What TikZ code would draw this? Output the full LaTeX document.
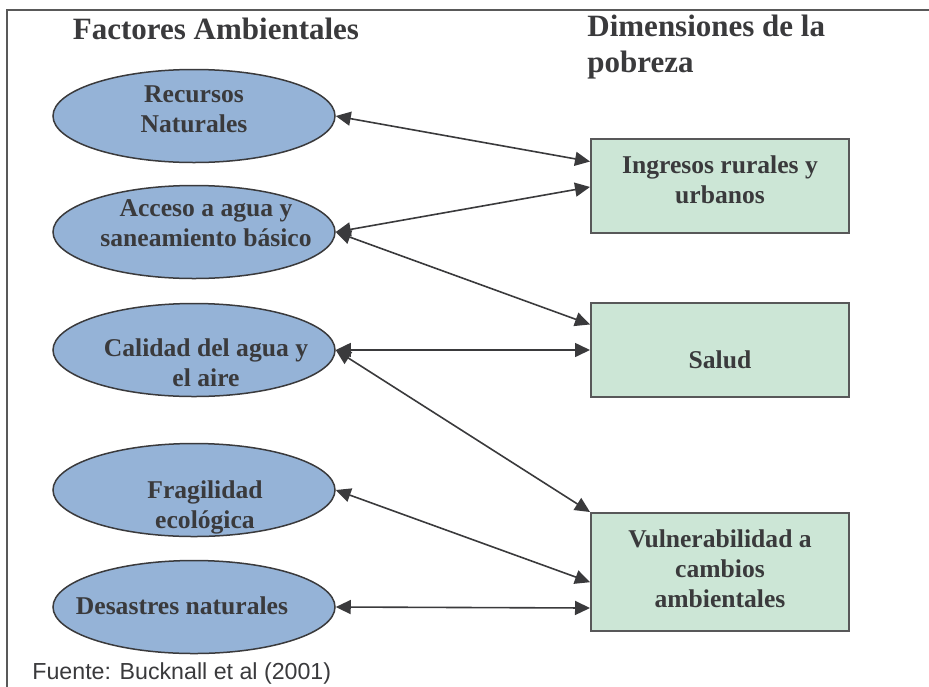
\documentclass[tikz,border=0pt]{standalone}
\usepackage{fontspec}
\setmainfont{Liberation Serif}
\newfontfamily\fuentefont{Liberation Sans}
\usetikzlibrary{arrows.meta,calc,shapes.geometric}
\definecolor{elipse}{RGB}{149,179,215}
\definecolor{caja}{RGB}{204,230,214}
\definecolor{tinta}{RGB}{58,58,60}

\begin{document}
\begin{tikzpicture}[
  x=0.5pt, y=-0.5pt,
  every node/.style={text=tinta},
  titulo/.style={font=\bfseries\fontsize{15.5}{18}\selectfont, inner sep=0pt},
  texto/.style={font=\bfseries\fontsize{12.8}{15}\selectfont, align=center, inner sep=0pt},
  factor/.style={ellipse, draw=tinta, line width=0.75pt, fill=elipse,
    minimum width=141pt, minimum height=46.5pt, inner sep=0pt},
  dimension/.style={rectangle, draw=tinta!85, line width=1pt, fill=caja,
    minimum width=129pt, minimum height=47pt, inner sep=0pt},
  flecha/.style={draw=tinta, line width=0.8pt,
    {Triangle[length=7.5pt,width=7pt]}-{Triangle[length=7.5pt,width=7pt]}},
]
\useasboundingbox (0,0) rectangle (929,686);
\clip (0,0) rectangle (929,686);
\draw[line width=1pt, draw=black!65] (7,10) rectangle (960,720);

% titulos
\node[titulo] (tfac) at (216,29) {Factores Ambientales};
\node[titulo, align=left, anchor=west] (tdim) at (587,47) {Dimensiones de la\\pobreza};

% factores ambientales
\foreach \n/\y/\tx/\ty/\txt in {
  rec/116/194/109/{Recursos\\Naturales},
  acc/232/206/223/{Acceso a agua y\\saneamiento básico},
  cal/350/206/363/{Calidad del agua y\\el aire},
  fra/490/205/507/{Fragilidad\\ecológica},
  des/607/182/606/{Desastres naturales}} {
  \node[factor] (\n) at (194,\y) {};
  \node[texto] (\n-t) at (\tx,\ty) {\txt};
}

% dimensiones de la pobreza
\node[dimension] (ing) at (720,186) {};
\node[texto] (ing-t) at (720,180) {Ingresos rurales y\\urbanos};
\node[dimension] (sal) at (720,350) {};
\node[texto] (sal-t) at (720,359.5) {Salud};
\node[dimension, minimum height=59pt] (vul) at (720,572) {};
\node[texto] (vul-t) at (720,569) {Vulnerabilidad a\\cambios\\ambientales};

% relaciones
\draw[flecha] (rec.east) -- ($(ing.north west)!.245!(ing.south west)$);
\draw[flecha] (acc.east) -- ($(ing.north west)!.51!(ing.south west)$);
\draw[flecha] (acc.east) -- ($(sal.north west)!.234!(sal.south west)$);
\draw[flecha] (cal.east) -- (sal.west);
\draw[flecha] (cal.east) -- (vul.north west);
\draw[flecha] (fra.east) -- ($(vul.north west)!.585!(vul.south west)$);
\draw[flecha] (des.east) -- ($(vul.north west)!.8!(vul.south west)$);

\node[font=\fuentefont\fontsize{11.6}{14}\selectfont, anchor=base west, inner sep=0pt] (fuente) at (32,679) {Fuente: Bucknall et al (2001)};
\end{tikzpicture}
\end{document}
